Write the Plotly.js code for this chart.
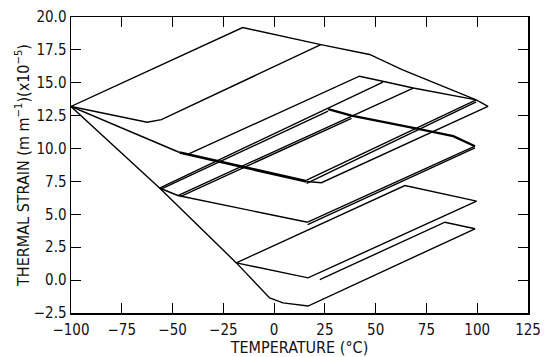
<!DOCTYPE html>
<html>
<head>
<meta charset="utf-8">
<script src="https://cdn.plot.ly/plotly-3.0.1.min.js"></script>
<style>html,body{margin:0;padding:0;background:#fff;}#chart{width:547px;height:357px;}</style>
</head>
<body>
<div id="chart"></div>
<script>
// ---- data (temperature °C, thermal strain x1e-5) ----
const topX = [-100, -15.5, 23, 47, 63, 99.5];
const topY = [13.2, 19.2, 17.9, 17.15, 16.0, 13.7];
const loopAX = [-100, -62.5, -55.5, 23];
const loopAY = [13.2, 12.0, 12.2, 17.9];
const coolAX = [-46.5, -100];
const coolAY = [9.7, 13.2];
const bandX = [16, -46.5];
const bandY = [7.5, 9.7];
const heatBX = [-42, 42, 54, 68.5, 99.5];
const heatBY = [9.6, 15.5, 15.1, 14.6, 13.7];
const returnAX = [99.5, 105.3, 23.3, 16];
const returnAY = [13.7, 13.2, 7.4, 7.5];
const returnBX = [99.5, 16];
const returnBY = [13.55, 7.35];
const returnCX = [99.5, 16];
const returnCY = [13.7, 7.6];
const heatC1X = [-56.4, 53.6];
const heatC1Y = [7.0, 15.05];
const heatC2X = [-55.2, 26.6];
const heatC2Y = [6.95, 12.85];
const ridgeX = [26.6, 38.1, 68.5, 88.2, 98.9];
const ridgeY = [13.0, 12.5, 11.57, 10.94, 10.18];
const heatD1X = [-47.4, 68.5];
const heatD1Y = [6.43, 14.6];
const heatD2X = [-46.2, 38.1];
const heatD2Y = [6.35, 12.3];
const midRetAX = [98.9, 16.5];
const midRetAY = [10.18, 4.4];
const midRetBX = [98.9, 16.5];
const midRetBY = [10.05, 4.22];
const lowRetX = [16.5, -47.4, -56.4];
const lowRetY = [4.4, 6.43, 7.0];
const diagX = [-100, -56.4, -18.6, -2.2, 4.4, 16.7, 98.9, 84.1, 22.5];
const diagY = [13.2, 7.0, 1.31, -1.35, -1.73, -1.97, 3.9, 4.4, 0.04];
const lowLoopX = [-18.6, 64.4, 99.7, 16.7, -18.6];
const lowLoopY = [1.31, 7.19, 6.0, 0.17, 1.31];
const xTickVals = [-100, -75, -50, -25, 0, 25, 50, 75, 100, 125];
const xTickText = ['\u2212100', '\u221275', '\u221250', '\u221225', '0', '25', '50', '75', '100', '125'];
const yTickVals = [-2.5, 0, 2.5, 5, 7.5, 10, 12.5, 15, 17.5, 20];

const FONT = "'Liberation Sans Narrow', 'Arial Narrow', 'DejaVu Sans Condensed', sans-serif";

function line(x, y, w) {
  return {x: x, y: y, type: 'scatter', mode: 'lines', hoverinfo: 'skip',
          line: {color: '#000', width: w || 1.4}, showlegend: false};
}

const traces = [
  line(topX, topY), line(loopAX, loopAY), line(coolAX, coolAY),
  line(bandX, bandY, 2.8), line(heatBX, heatBY),
  line(returnAX, returnAY), line(returnBX, returnBY), line(returnCX, returnCY),
  line(heatC1X, heatC1Y), line(heatC2X, heatC2Y),
  line(ridgeX, ridgeY, 2.3), line(heatD1X, heatD1Y), line(heatD2X, heatD2Y),
  line(midRetAX, midRetAY), line(midRetBX, midRetBY), line(lowRetX, lowRetY),
  line(diagX, diagY), line(lowLoopX, lowLoopY)
];

const layout = {
  width: 547, height: 357,
  margin: {l: 71, r: 19, t: 17, b: 44},
  paper_bgcolor: '#fff', plot_bgcolor: '#fff',
  font: {family: FONT, size: 15, color: '#111'},
  xaxis: {
    range: [-100, 125], tickvals: xTickVals, ticktext: xTickText,
    ticks: 'inside', ticklen: 10, tickwidth: 1.2, tickcolor: '#000',
    showline: true, linecolor: '#000', linewidth: 1.5, mirror: 'ticks',
    showgrid: false, zeroline: false, ticklabelstandoff: 2,
    tickfont: {family: FONT, size: 15, color: '#111'},
    title: {text: 'TEMPERATURE (\u00B0C)', font: {family: FONT, size: 16, color: '#111'}, standoff: 2}
  },
  yaxis: {
    range: [-2.5, 20], tickvals: yTickVals, tickformat: '.1f',
    ticks: 'inside', ticklen: 10, tickwidth: 1.2, tickcolor: '#000',
    showline: true, linecolor: '#000', linewidth: 1.5, mirror: 'ticks',
    showgrid: false, zeroline: false,
    tickfont: {family: FONT, size: 15, color: '#111'},
    title: {text: 'THERMAL STRAIN (m m<sup>\u22121</sup>)(x10<sup>\u22125</sup>)', font: {family: FONT, size: 16, color: '#111'}, standoff: 0}
  }
};

Plotly.newPlot('chart', traces, layout, {staticPlot: true, displayModeBar: false});
</script>
</body>
</html>
